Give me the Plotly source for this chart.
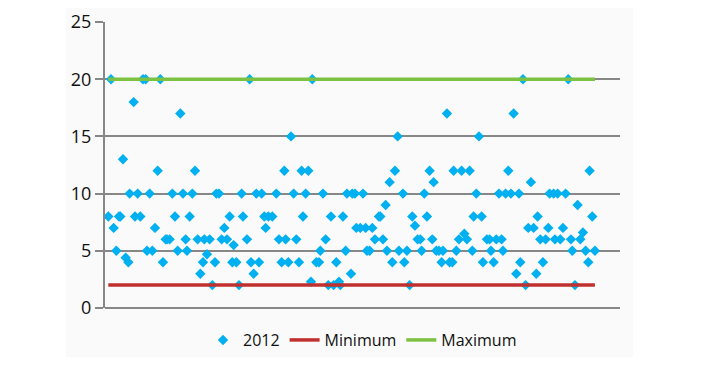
import plotly.graph_objects as go

# Day of year (2012) and measured values
days = [0, 2, 4, 6, 8, 9, 11, 13, 15, 16, 19, 20, 22, 24, 26, 28, 29, 31, 33, 35,
        37, 39, 41, 43, 44, 46, 48, 50, 52, 54, 56, 58, 59, 61, 63, 65, 67, 69, 71, 72,
        74, 76, 78, 80, 81, 83, 85, 87, 89, 91, 93, 94, 96, 98, 100, 101, 104, 106, 107, 109,
        111, 113, 115, 117, 118, 120, 123, 126, 128, 130, 132, 133, 135, 137, 139, 141, 143, 145, 146, 148,
        150, 152, 153, 156, 158, 159, 161, 163, 165, 167, 169, 171, 173, 174, 176, 178, 179, 182, 183, 185,
        186, 189, 191, 193, 194, 196, 198, 200, 203, 204, 206, 208, 209, 211, 213, 215, 217, 218, 221, 222,
        224, 226, 228, 230, 232, 234, 235, 237, 239, 241, 243, 244, 246, 248, 250, 251, 254, 256, 258, 259,
        261, 263, 265, 267, 269, 271, 273, 274, 276, 278, 280, 281, 284, 286, 287, 289, 291, 293, 295, 296,
        298, 300, 302, 304, 306, 308, 309, 311, 313, 315, 317, 319, 321, 322, 324, 326, 328, 330, 331, 334,
        335, 337, 339, 341, 343, 345, 347, 348, 350, 352, 354, 356, 358, 360, 361, 363, 365]
values_2012 = [8, 20, 7, 5, 8, 8, 13, 4.4, 4, 10, 18, 8, 10, 8, 20, 20, 5, 10, 5, 7,
               12, 20, 4, 6, 6, 6, 10, 8, 5, 17, 10, 6, 5, 8, 10, 12, 6, 3, 4, 6,
               4.7, 6, 2, 4, 10, 10, 6, 7, 6, 8, 4, 5.5, 4, 2, 10, 8, 6, 20, 4, 3,
               10, 4, 10, 8, 7, 8, 8, 10, 6, 4, 12, 6, 4, 15, 10, 6, 4, 12, 8, 10,
               12, 2.3, 20, 4, 4, 5, 10, 6, 2, 8, 2, 4, 2.3, 2, 8, 5, 10, 3, 10, 10,
               7, 7, 10, 7, 5, 5, 7, 6, 8, 8, 6, 9, 5, 11, 4, 12, 15, 5, 10, 4,
               5, 2, 8, 7.2, 6, 6, 5, 10, 8, 12, 6, 11, 5, 5, 4, 5, 17, 4, 4, 12,
               5, 6, 12, 6.5, 6, 12, 5, 8, 10, 15, 8, 4, 6, 6, 5, 4, 6, 10, 6, 5,
               10, 12, 10, 17, 3, 10, 4, 20, 2, 7, 11, 7, 3, 8, 6, 4, 6, 7, 10, 10,
               6, 10, 6, 7, 10, 20, 6, 5, 2, 9, 6, 6.6, 5, 4, 12, 8, 5]

line_days = [0, 365]
minimum = [2, 2]
maximum = [20, 20]

y_ticks = [0, 5, 10, 15, 20, 25]

font_family = "Open Sans, Noto Sans, DejaVu Sans, sans-serif"
grid = "#878787"

fig = go.Figure()
fig.add_trace(go.Scatter(
    x=days, y=values_2012, mode="markers", name="2012",
    marker=dict(symbol="diamond", size=8, color="#00b0f0", line=dict(width=0)),
))
fig.add_trace(go.Scatter(
    x=line_days, y=minimum, mode="lines", name="Minimum",
    line=dict(color="#c0302e", width=3.5),
))
fig.add_trace(go.Scatter(
    x=line_days, y=maximum, mode="lines", name="Maximum",
    line=dict(color="#7cc142", width=3.5),
))

# page has an 8px body margin, so the figure is drawn 8px in from the window edge
fig.update_layout(
    width=696, height=349,
    margin=dict(l=97, r=84, t=14, b=49, autoexpand=False),
    paper_bgcolor="white",
    plot_bgcolor="rgba(0,0,0,0)",
    font=dict(family=font_family, size=16, color="#111111"),
    showlegend=True,
    legend=dict(orientation="h", x=0.5, xanchor="center", y=-0.112, yanchor="middle",
                font=dict(size=16), bgcolor="rgba(0,0,0,0)", itemwidth=30,
                traceorder="normal"),
    shapes=[dict(type="rect", xref="paper", yref="paper",
                 x0=-0.0757, x1=1.0252, y0=-0.171, y1=1.049,
                 fillcolor="#fafafa", line=dict(width=0), layer="below")],
)
fig.update_xaxes(range=[-2.5, 383.8], showticklabels=False, showgrid=False,
                 zeroline=False, showline=False, ticks="", automargin=False)
fig.update_yaxes(range=[0, 25], tickvals=y_ticks, showgrid=True, gridcolor=grid,
                 gridwidth=1.5, zeroline=True, zerolinecolor=grid, zerolinewidth=2,
                 showline=True, linecolor=grid, linewidth=2, automargin=False,
                 ticks="outside", ticklen=8, tickcolor=grid, tickwidth=2,
                 tickfont=dict(size=18, color="#111111"))

fig.write_html("out.html")
